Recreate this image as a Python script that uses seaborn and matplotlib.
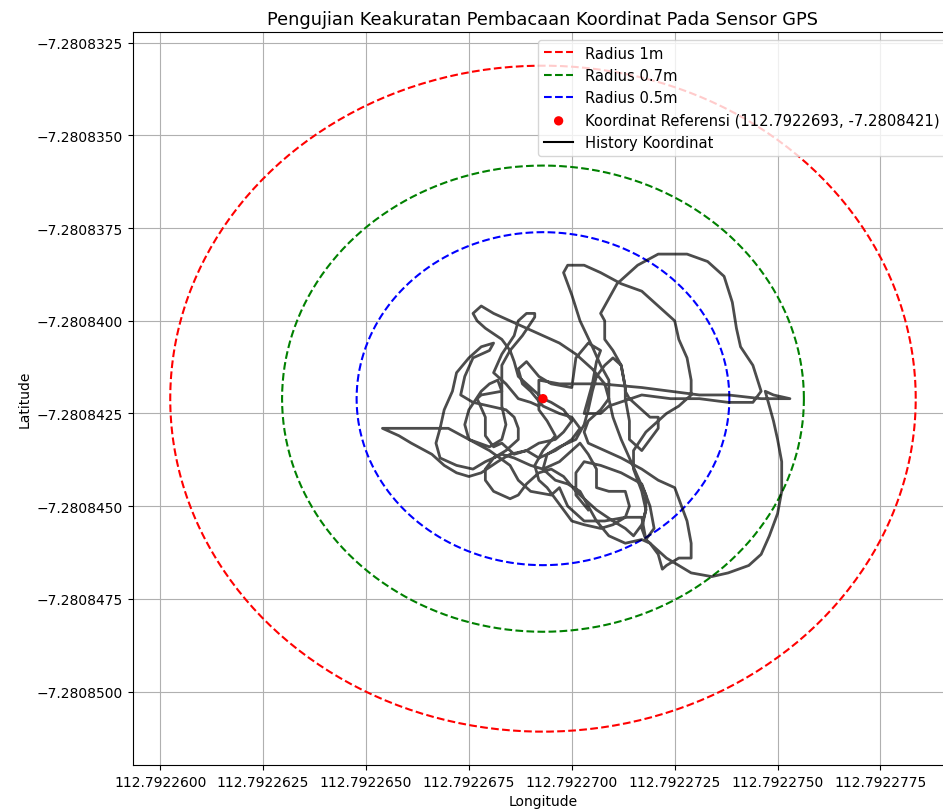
import numpy as np
import pandas as pd
import seaborn as sns
import matplotlib.pyplot as plt


REF_LON = 112.7922693
REF_LAT = -7.2808421

RADII_M = [1, 0.7, 0.5]
RADIUS_COLORS = ['red', 'green', 'blue']
RADIUS_LABELS = ['Radius 1m', 'Radius 0.7m', 'Radius 0.5m']

# GPS history (degrees)
HISTORY_LON = [
    112.7922692, 112.7922690, 112.7922687, 112.7922684, 112.7922681, 112.7922683, 112.7922686, 112.7922687,
    112.7922689, 112.7922691, 112.7922691, 112.7922688, 112.7922685, 112.7922683, 112.7922683, 112.7922683,
    112.7922684, 112.7922683, 112.7922680,
    112.7922675, 112.7922670, 112.7922666, 112.7922660, 112.7922654, 112.7922658, 112.7922661, 112.7922666,
    112.7922669, 112.7922672, 112.7922675, 112.7922678, 112.7922682, 112.7922685, 112.7922689, 112.7922692,
    112.7922696, 112.7922698, 112.7922700, 112.7922698, 112.7922695, 112.7922693,
    112.7922691, 112.7922689, 112.7922687, 112.7922686, 112.7922685, 112.7922683, 112.7922679, 112.7922677,
    112.7922676, 112.7922678, 112.7922681, 112.7922685, 112.7922689, 112.7922693, 112.7922697, 112.7922701,
    112.7922705, 112.7922708, 112.7922709, 112.7922710, 112.7922712, 112.7922714, 112.7922716, 112.7922718,
    112.7922718, 112.7922717, 112.7922715, 112.7922713,
    112.7922710, 112.7922706, 112.7922703, 112.7922701, 112.7922698, 112.7922695, 112.7922692, 112.7922689,
    112.7922687, 112.7922685, 112.7922681, 112.7922679, 112.7922679, 112.7922681, 112.7922684, 112.7922687,
    112.7922687, 112.7922686, 112.7922684, 112.7922680, 112.7922676,
    112.7922673, 112.7922674, 112.7922676, 112.7922680, 112.7922681, 112.7922678, 112.7922675, 112.7922672,
    112.7922671, 112.7922669, 112.7922668, 112.7922667, 112.7922668, 112.7922672, 112.7922676, 112.7922679,
    112.7922683, 112.7922686, 112.7922690, 112.7922693, 112.7922697, 112.7922700, 112.7922702, 112.7922704,
    112.7922706, 112.7922706, 112.7922709, 112.7922713, 112.7922714, 112.7922713, 112.7922710, 112.7922707,
    112.7922703, 112.7922700, 112.7922698, 112.7922696, 112.7922694, 112.7922692,
    112.7922691, 112.7922693, 112.7922696, 112.7922694, 112.7922692, 112.7922692, 112.7922692, 112.7922697,
    112.7922707, 112.7922717, 112.7922724, 112.7922731, 112.7922738, 112.7922746, 112.7922753, 112.7922749,
    112.7922747,
    112.7922748, 112.7922749, 112.7922750, 112.7922751, 112.7922751, 112.7922750, 112.7922748, 112.7922746,
    112.7922743, 112.7922738, 112.7922734, 112.7922729, 112.7922726, 112.7922723, 112.7922720, 112.7922718,
    112.7922717,
    112.7922718, 112.7922717, 112.7922715, 112.7922715, 112.7922718, 112.7922723, 112.7922726, 112.7922729,
    112.7922729, 112.7922728, 112.7922726, 112.7922725, 112.7922721, 112.7922717, 112.7922712, 112.7922707,
    112.7922703, 112.7922699, 112.7922698, 112.7922700, 112.7922702, 112.7922705, 112.7922707, 112.7922709,
    112.7922709,
    112.7922707, 112.7922704, 112.7922703, 112.7922704, 112.7922708, 112.7922712, 112.7922717, 112.7922721,
    112.7922725, 112.7922726, 112.7922728, 112.7922729, 112.7922729, 112.7922726, 112.7922723, 112.7922722,
    112.7922721, 112.7922719, 112.7922717, 112.7922713, 112.7922709, 112.7922706, 112.7922704, 112.7922702,
    112.7922699, 112.7922696,
    112.7922693, 112.7922694, 112.7922697, 112.7922701, 112.7922703, 112.7922704, 112.7922705, 112.7922706,
    112.7922708, 112.7922710, 112.7922712, 112.7922713, 112.7922713, 112.7922714, 112.7922719, 112.7922721,
    112.7922721, 112.7922719, 112.7922717,
    112.7922714, 112.7922714, 112.7922713, 112.7922713, 112.7922712, 112.7922710, 112.7922708, 112.7922708,
    112.7922707, 112.7922709, 112.7922711, 112.7922716, 112.7922721, 112.7922728, 112.7922733, 112.7922737,
    112.7922739, 112.7922740, 112.7922741, 112.7922744, 112.7922746, 112.7922744, 112.7922738, 112.7922731,
    112.7922724, 112.7922717,
    112.7922709, 112.7922707, 112.7922703, 112.7922704, 112.7922705, 112.7922706, 112.7922707, 112.7922704,
    112.7922701, 112.7922700, 112.7922695, 112.7922692, 112.7922689, 112.7922687, 112.7922688, 112.7922690,
    112.7922693, 112.7922697, 112.7922700, 112.7922702, 112.7922700, 112.7922696, 112.7922692, 112.7922689,
    112.7922686, 112.7922683, 112.7922681, 112.7922679, 112.7922679, 112.7922677, 112.7922678, 112.7922683,
    112.7922682, 112.7922680, 112.7922678, 112.7922675, 112.7922674, 112.7922675, 112.7922680, 112.7922685,
    112.7922687, 112.7922690, 112.7922695, 112.7922697, 112.7922699, 112.7922703, 112.7922708, 112.7922713,
    112.7922717, 112.7922718, 112.7922720, 112.7922719, 112.7922717, 112.7922712, 112.7922707, 112.7922703,
    112.7922701, 112.7922701, 112.7922704,
]

HISTORY_LAT = [
    -7.2808423, -7.2808422, -7.2808421, -7.2808417, -7.2808414, -7.2808409, -7.2808404, -7.2808400,
    -7.2808398, -7.2808398, -7.2808399, -7.2808404, -7.2808408, -7.2808412, -7.2808417, -7.2808423,
    -7.2808428, -7.2808432, -7.2808434,
    -7.2808432, -7.2808429, -7.2808429, -7.2808429, -7.2808429, -7.2808431, -7.2808433, -7.2808436,
    -7.2808439, -7.2808441, -7.2808442, -7.2808441, -7.2808438, -7.2808436, -7.2808435, -7.2808433,
    -7.2808432, -7.2808430, -7.2808427, -7.2808424, -7.2808422, -7.2808421,
    -7.2808419, -7.2808417, -7.2808415, -7.2808411, -7.2808408, -7.2808405, -7.2808402, -7.2808400,
    -7.2808398, -7.2808396, -7.2808398, -7.2808400, -7.2808402, -7.2808404, -7.2808406, -7.2808409,
    -7.2808413, -7.2808417, -7.2808421, -7.2808426, -7.2808432, -7.2808437, -7.2808442, -7.2808447,
    -7.2808451, -7.2808455, -7.2808458, -7.2808456,
    -7.2808454, -7.2808451, -7.2808448, -7.2808446, -7.2808442, -7.2808440, -7.2808441, -7.2808444,
    -7.2808447, -7.2808448, -7.2808446, -7.2808443, -7.2808440, -7.2808437, -7.2808435, -7.2808432,
    -7.2808429, -7.2808426, -7.2808424, -7.2808423, -7.2808422,
    -7.2808420, -7.2808415, -7.2808410, -7.2808408, -7.2808406, -7.2808407, -7.2808410, -7.2808414,
    -7.2808419, -7.2808424, -7.2808429, -7.2808433, -7.2808437, -7.2808439, -7.2808440, -7.2808438,
    -7.2808436, -7.2808437, -7.2808439, -7.2808440, -7.2808438, -7.2808435, -7.2808433, -7.2808436,
    -7.2808440, -7.2808445, -7.2808446, -7.2808446, -7.2808450, -7.2808453, -7.2808455, -7.2808456,
    -7.2808455, -7.2808454, -7.2808451, -7.2808448, -7.2808445, -7.2808443,
    -7.2808439, -7.2808435, -7.2808431, -7.2808427, -7.2808424, -7.2808420, -7.2808416, -7.2808417,
    -7.2808417, -7.2808418, -7.2808419, -7.2808420, -7.2808420, -7.2808421, -7.2808421, -7.2808420,
    -7.2808419,
    -7.2808423, -7.2808427, -7.2808432, -7.2808438, -7.2808446, -7.2808452, -7.2808458, -7.2808463,
    -7.2808466, -7.2808468, -7.2808469, -7.2808468, -7.2808466, -7.2808464, -7.2808461, -7.2808459,
    -7.2808456,
    -7.2808451, -7.2808446, -7.2808440, -7.2808435, -7.2808430, -7.2808425, -7.2808423, -7.2808420,
    -7.2808416, -7.2808410, -7.2808405, -7.2808400, -7.2808396, -7.2808392, -7.2808390, -7.2808387,
    -7.2808385, -7.2808385, -7.2808387, -7.2808393, -7.2808400, -7.2808407, -7.2808412, -7.2808416,
    -7.2808421,
    -7.2808424, -7.2808427, -7.2808430, -7.2808433, -7.2808435, -7.2808437, -7.2808440, -7.2808443,
    -7.2808445, -7.2808448, -7.2808454, -7.2808460, -7.2808464, -7.2808464, -7.2808466, -7.2808467,
    -7.2808463, -7.2808460, -7.2808459, -7.2808460, -7.2808458, -7.2808454, -7.2808450, -7.2808446,
    -7.2808444, -7.2808443,
    -7.2808440, -7.2808436, -7.2808434, -7.2808432, -7.2808428, -7.2808424, -7.2808419, -7.2808415,
    -7.2808412, -7.2808410, -7.2808412, -7.2808418, -7.2808419, -7.2808421, -7.2808426, -7.2808426,
    -7.2808429, -7.2808432, -7.2808435,
    -7.2808432, -7.2808427, -7.2808421, -7.2808418, -7.2808412, -7.2808408, -7.2808405, -7.2808400,
    -7.2808398, -7.2808394, -7.2808390, -7.2808385, -7.2808382, -7.2808382, -7.2808384, -7.2808388,
    -7.2808395, -7.2808402, -7.2808407, -7.2808412, -7.2808419, -7.2808422, -7.2808422, -7.2808421,
    -7.2808421, -7.2808420,
    -7.2808423, -7.2808425, -7.2808425, -7.2808421, -7.2808417, -7.2808411, -7.2808408, -7.2808406,
    -7.2808410, -7.2808418, -7.2808417, -7.2808415, -7.2808411, -7.2808413, -7.2808417, -7.2808419,
    -7.2808423, -7.2808425, -7.2808426, -7.2808429, -7.2808432, -7.2808435, -7.2808437, -7.2808435,
    -7.2808436, -7.2808433, -7.2808434, -7.2808431, -7.2808426, -7.2808421, -7.2808420, -7.2808419,
    -7.2808416, -7.2808417, -7.2808419, -7.2808424, -7.2808428, -7.2808432, -7.2808435, -7.2808439,
    -7.2808443, -7.2808446, -7.2808447, -7.2808445, -7.2808450, -7.2808454, -7.2808454, -7.2808453,
    -7.2808453, -7.2808459, -7.2808456, -7.2808450, -7.2808444, -7.2808441, -7.2808439, -7.2808438,
    -7.2808441, -7.2808447, -7.2808451,
]

METERS_PER_DEG = 111320


def main():
    fig = plt.figure(figsize=(9.43, 8.12), dpi=100)
    # axes run a little past the right edge, as in the cropped original
    ax = fig.add_axes([0.141, 0.0567, 0.8696, 0.9022])

    theta = np.linspace(0, 2 * np.pi, 361)
    for r, c, lab in zip(RADII_M, RADIUS_COLORS, RADIUS_LABELS):
        dlat = r / METERS_PER_DEG
        dlon = r / (METERS_PER_DEG * np.cos(np.radians(REF_LAT)))
        circle = pd.DataFrame({'lon': REF_LON + dlon * np.cos(theta),
                               'lat': REF_LAT + dlat * np.sin(theta)})
        sns.lineplot(data=circle, x='lon', y='lat', sort=False, estimator=None,
                     color=c, linestyle='--', linewidth=1.5, label=lab, ax=ax)

    history = pd.DataFrame({'lon': HISTORY_LON, 'lat': HISTORY_LAT})
    sns.lineplot(data=history, x='lon', y='lat', sort=False, estimator=None,
                 color='black', alpha=0.7, linewidth=2, ax=ax)

    ref_label = 'Koordinat Referensi (112.7922693, -7.2808421)'
    sns.scatterplot(x=[REF_LON], y=[REF_LAT], color='red', s=45,
                    edgecolor='none', zorder=5, ax=ax, label=ref_label)
    ax.plot([], [], color='black', linewidth=1.5, label='History Koordinat')

    handles, labels = ax.get_legend_handles_labels()
    order = RADIUS_LABELS + [ref_label, 'History Koordinat']
    lookup = dict(zip(labels, handles))
    ax.legend([lookup[k] for k in order], order, loc='upper right',
              fontsize=10.6)

    ax.ticklabel_format(useOffset=False, style='plain')
    ax.grid(True)
    ax.set_title("Pengujian Keakuratan Pembacaan Koordinat Pada Sensor GPS",
                 fontsize=12.8)
    ax.set_xlabel("Longitude")
    ax.set_ylabel("Latitude")

    fig.savefig('out.png', dpi=100)


if __name__ == '__main__':
    main()
